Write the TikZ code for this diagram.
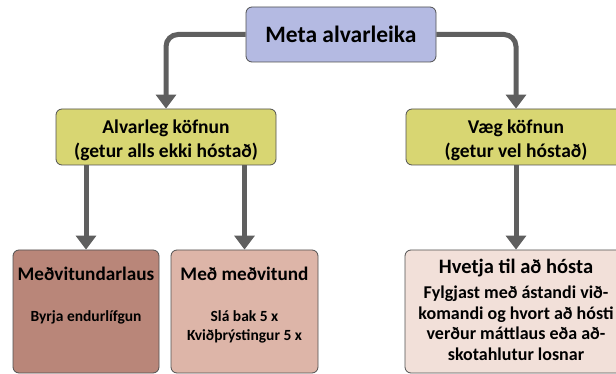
\documentclass[tikz,border=0pt]{standalone}
\usepackage{fontspec}
\setmainfont{Carlito}
\usetikzlibrary{arrows.meta}
\definecolor{lavbox}{RGB}{180,186,226}
\definecolor{yelbox}{RGB}{216,214,114}
\definecolor{brnbox}{RGB}{185,134,121}
\definecolor{pnkbox}{RGB}{221,181,168}
\definecolor{palbox}{RGB}{242,224,217}
\definecolor{boxline}{RGB}{80,80,80}
\definecolor{conngray}{RGB}{95,95,95}

\begin{document}
\begin{tikzpicture}[x=1pt,y=-1pt,font=\bfseries,
    box/.style={draw=boxline,line width=0.8pt,rounded corners=6pt,inner sep=0pt,align=center},
    conn/.style={draw=conngray,line width=5pt,rounded corners=12pt,-{Triangle[width=20pt,length=14pt]}},
    midtxt/.style={align=center,font=\bfseries\fontsize{19.5}{24}\selectfont},
    headtxt/.style={font=\bfseries\fontsize{19.2}{20}\selectfont},
    bodytxt/.style={align=center,font=\bfseries\fontsize{15.5}{19}\selectfont}]
  \path[use as bounding box,clip] (0,0) rectangle (616,374);

  % top
  \node[box,fill=lavbox,minimum width=190pt,minimum height=55pt,
        font=\bfseries\fontsize{23.5}{26}\selectfont] (meta) at (341,34.5) {Meta alvarleika};

  % second row
  \node[box,fill=yelbox,minimum width=220pt,minimum height=56pt] (sev) at (166,137) {};
  \node[box,fill=yelbox,minimum width=220pt,minimum height=56pt] (mild) at (516,137) {};
  \node[midtxt] (sevT) at (166,140) {Alvarleg köfnun\\(getur alls ekki hóstað)};
  \node[midtxt] (mildT) at (516,140) {Væg köfnun\\(getur vel hóstað)};

  % bottom row
  \node[box,fill=brnbox,minimum width=146pt,minimum height=123pt] (unc) at (86,311.5) {};
  \node[box,fill=pnkbox,minimum width=147pt,minimum height=123pt] (con) at (244.5,311.5) {};
  \node[box,fill=palbox,minimum width=222pt,minimum height=123pt] (enc) at (516,311.5) {};

  \node[headtxt] (uncH) at (86,274) {Meðvitundarlaus};
  \node[bodytxt] (uncB) at (86,317) {Byrja endurlífgun};
  \node[headtxt] (conH) at (244.5,274) {Með meðvitund};
  \node[bodytxt] (conB) at (244.5,326.5) {Slá bak 5 x\\Kviðþrýstingur 5 x};
  \node[headtxt,font=\bfseries\fontsize{20.5}{22}\selectfont] (encH) at (516,268) {Hvetja til að hósta};
  \node[bodytxt,font=\bfseries\fontsize{18}{20.5}\selectfont] (encB) at (516,323)
    {Fylgjast með ástandi við-\\komandi og hvort að hósti\\verður máttlaus eða að-\\skotahlutur losnar};

  % connectors
  \draw[conn] (meta.west) -| (sev.north);
  \draw[conn] (meta.east) -| (mild.north);
  \draw[conn] (sev.south -| unc.north) -- (unc.north);
  \draw[conn] (sev.south -| con.north) -- (con.north);
  \draw[conn] (mild.south) -- (enc.north);
\end{tikzpicture}
\end{document}
